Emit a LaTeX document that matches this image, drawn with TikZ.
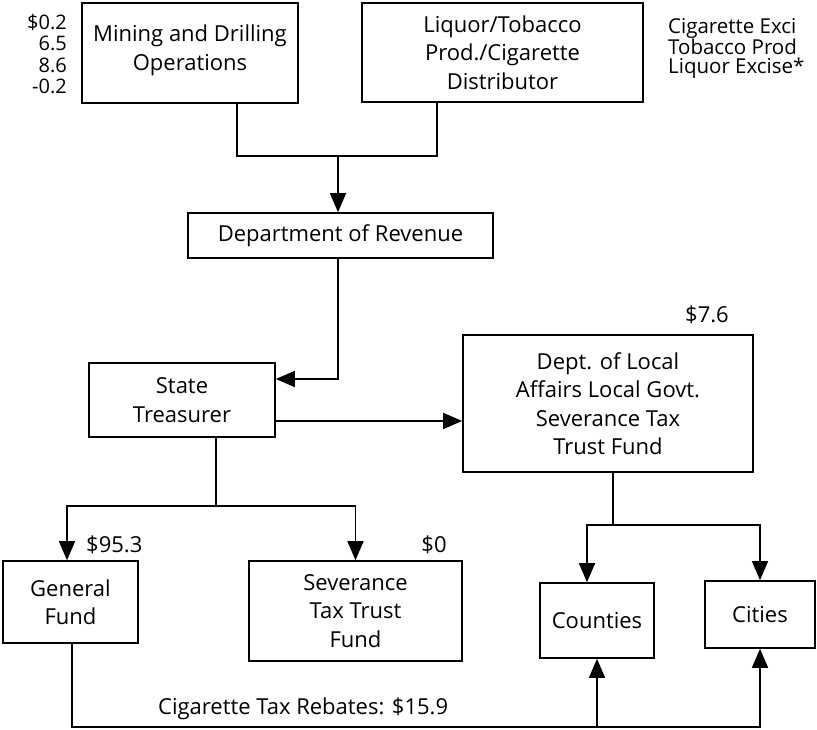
\documentclass[tikz,border=0pt]{standalone}
\usepackage{fontspec}
\setmainfont{Open Sans}
\usetikzlibrary{arrows.meta}

\tikzset{
  box/.style={draw, line width=1.6pt, align=center, inner sep=0pt,
    font=\fontsize{22}{28.5}\selectfont},
  flow/.style={line width=1.5pt},
  flowarrow/.style={flow, -{Triangle[length=19pt, width=16pt]}},
  note/.style={inner sep=0pt, font=\fontsize{22}{22}\selectfont}
}

\begin{document}
\begin{tikzpicture}[x=1pt, y=-1pt]
		\useasboundingbox (0,0) rectangle (817,730);
		
		% Sources
		\node[box, minimum width=216pt, minimum height=100pt] (mining) at (190,53)
		{Mining and Drilling\\Operations\\[-18pt]\mbox{}};
		\node[box, minimum width=281pt, minimum height=99pt] (liquor) at (502.5,52.5)
		{Liquor/Tobacco\\Prod./Cigarette\\Distributor};
		\node[note, anchor=east, align=right, font=\fontsize{20}{21.5}\selectfont] (miningtax) at (67,54)
		{\$0.2\\6.5\\8.6\\-0.2};
		\node[note, anchor=west, align=left, font=\fontsize{20.5}{18.5}\selectfont] (liquortax) at (668,48)
		{Cigarette Exci\\Tobacco Prod\\Liquor Excise*};
		
		% Collection
		\node[box, minimum width=305pt, minimum height=45pt] (revenue) at (340.5,235.5)
		{Department of Revenue};
		\node[box, minimum width=186pt, minimum height=74pt] (treasurer) at (182,400)
		{State\\Treasurer};
		\node[box, minimum width=290pt, minimum height=137pt] (localaffairs) at (608,403.5)
		{Dept. of Local\\Affairs Local Govt.\\Severance Tax\\Trust Fund};
		\node[note, anchor=center] (localamount) at (707,315) {\$7.6};
		
		% Funds and recipients
		\node[box, minimum width=135pt, minimum height=82pt] (general) at (70.5,602)
		{General\\Fund};
		\node[box, minimum width=213pt, minimum height=100pt] (severance) at (355.5,611)
		{Severance\\Tax Trust\\Fund};
		\node[box, minimum width=114pt, minimum height=75pt] (counties) at (597,620.5)
		{Counties};
		\node[box, minimum width=110pt, minimum height=67pt] (cities) at (760,614.5)
		{Cities};
		\node[note, anchor=west] (generalamount) at (86,545) {\$95.3};
		\node[note, anchor=center] (severanceamount) at (434,545) {\$0};
		
		% Junction points
		\coordinate (topjoin) at (338,156);
		\coordinate (fundjoin) at (216,506);
		\coordinate (cityjoin) at (613,525);
		\coordinate (rebatejoin) at (72,727);
		\coordinate (treasurerin) at ([yshift=21pt]treasurer.east);
		\coordinate (treasurerout) at ([yshift=-21pt]treasurer.east);
		
		% Flows
		\draw[flow] ([xshift=47pt]mining.south) |- (topjoin);
		\draw[flow] ([xshift=-65.5pt]liquor.south) |- (topjoin);
		\draw[flowarrow] (topjoin) -- (revenue.north -| topjoin);
		\draw[flowarrow] (revenue.south -| topjoin) |- (treasurerin);
		\draw[flowarrow] (treasurerout) -- (treasurerout -| localaffairs.west);
		\draw[flow] (treasurer.south -| fundjoin) -- (fundjoin);
		\draw[flowarrow] (fundjoin) -| ([xshift=-3.5pt]general.north);
		\draw[flowarrow] (fundjoin) -| (severance.north);
		\draw[flow] (localaffairs.south -| cityjoin) -- (cityjoin);
		\draw[flowarrow] (cityjoin) -| ([xshift=-10pt]counties.north);
		\draw[flowarrow] (cityjoin) -| (cities.north);
		
		% Rebates
		\draw[flowarrow] (general.south -| rebatejoin) |- (rebatejoin -| cities.south) -- (cities.south);
		\draw[flowarrow] (rebatejoin -| counties.south) -- (counties.south);
		\node[note, anchor=west] (rebatelabel) at (158,709) {Cigarette Tax Rebates: \$15.9};
	\end{tikzpicture}
\end{document}
